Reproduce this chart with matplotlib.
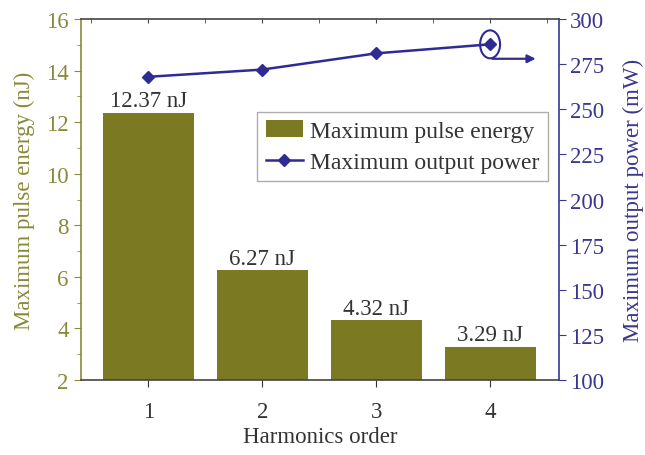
import matplotlib
matplotlib.use("Agg")
import matplotlib.pyplot as plt
from matplotlib.patches import Ellipse
from matplotlib.ticker import MultipleLocator

plt.rcParams['font.family'] = ['Liberation Serif', 'DejaVu Serif']

# Data
harmonics = [1, 2, 3, 4]
pulse_energy_nJ = [12.37, 6.27, 4.32, 3.29]
output_power_mW = [268, 272, 281, 286]
energy_labels = ["12.37 nJ", "6.27 nJ", "4.32 nJ", "3.29 nJ"]

bar_color = "#7b7a22"
left_color = "#8a893a"
line_color = "#2e2b94"
right_color = "#3a3790"
text_color = "#333333"
fs = 16.5

fig = plt.figure(figsize=(6.45, 4.56), dpi=100)
ax = fig.add_axes([0.1256, 0.1645, 0.7411, 0.7915])

bars = ax.bar(harmonics, pulse_energy_nJ, width=0.8, color=bar_color,
              label="Maximum pulse energy", zorder=2)
for x, v, lab in zip(harmonics, pulse_energy_nJ, energy_labels):
    ax.text(x, v + 0.05, lab, ha="center", va="bottom", fontsize=fs,
            color=text_color)

ax.set_xlim(0.41, 4.605)
ax.set_ylim(2, 16)
ax.set_xticks(harmonics)
ax.yaxis.set_major_locator(MultipleLocator(2))
ax.yaxis.set_minor_locator(MultipleLocator(1))
ax.set_xlabel("Harmonics order", fontsize=fs, color=text_color, labelpad=3)
ax.set_ylabel("Maximum pulse energy (nJ)", fontsize=fs, color=left_color,
              labelpad=8)
ax.tick_params(axis="y", colors=left_color, labelsize=fs, direction="out",
               length=5, pad=4)
ax.tick_params(axis="y", which="minor", colors=left_color, length=3)
ax.tick_params(axis="x", colors=text_color, labelsize=fs, direction="out",
               length=5, pad=10)
ax.spines["left"].set_color(left_color)
ax.spines["bottom"].set_color("#444444")
ax.spines["top"].set_color("#444444")
ax.spines["right"].set_visible(False)
for s in ax.spines.values():
    s.set_linewidth(1.2)

# Mirrored inward ticks along the top edge
top = ax.secondary_xaxis("top")
top.set_xticks([1, 2, 3, 4])
top.xaxis.set_minor_locator(MultipleLocator(0.5))
top.tick_params(axis="x", which="both", direction="in", length=3,
                labeltop=False, colors="#444444")
top.spines["top"].set_visible(False)

ax2 = ax.twinx()
ax2.plot(harmonics, output_power_mW, color=line_color, marker="D",
         markersize=6, linewidth=1.8, label="Maximum output power", zorder=3)
ax2.set_ylim(100, 300)
ax2.yaxis.set_major_locator(MultipleLocator(25))
ax2.set_ylabel("Maximum output power (mW)", fontsize=fs, color=right_color,
               labelpad=13)
ax2.tick_params(axis="y", colors=right_color, labelsize=fs, direction="out",
                length=5, pad=3)
ax2.spines["right"].set_color(right_color)
ax2.spines["right"].set_linewidth(1.2)
for side in ["left", "top", "bottom"]:
    ax2.spines[side].set_visible(False)

# Highlight the last point and point it towards the power axis
ax2.add_patch(Ellipse((harmonics[-1], output_power_mW[-1]), 0.175, 15.5,
                      fill=False, edgecolor=line_color, linewidth=1.5,
                      zorder=4))
ax2.annotate("", xy=(4.40, 278), xytext=(4.02, 278),
             arrowprops=dict(arrowstyle="-|>", color=line_color, lw=1.6,
                             mutation_scale=12, shrinkA=0, shrinkB=0))

h1, l1 = ax.get_legend_handles_labels()
h2, l2 = ax2.get_legend_handles_labels()
leg = ax2.legend(h1 + h2, l1 + l2, loc="upper right",
                 bbox_to_anchor=(0.977, 0.742), fontsize=17, frameon=True,
                 fancybox=False, edgecolor="#999999", borderpad=0.35,
                 handlelength=1.6, handletextpad=0.3, labelspacing=0.4,
                 borderaxespad=0)
for t in leg.get_texts():
    t.set_color(text_color)

fig.savefig("out.png", dpi=100, facecolor="white")
